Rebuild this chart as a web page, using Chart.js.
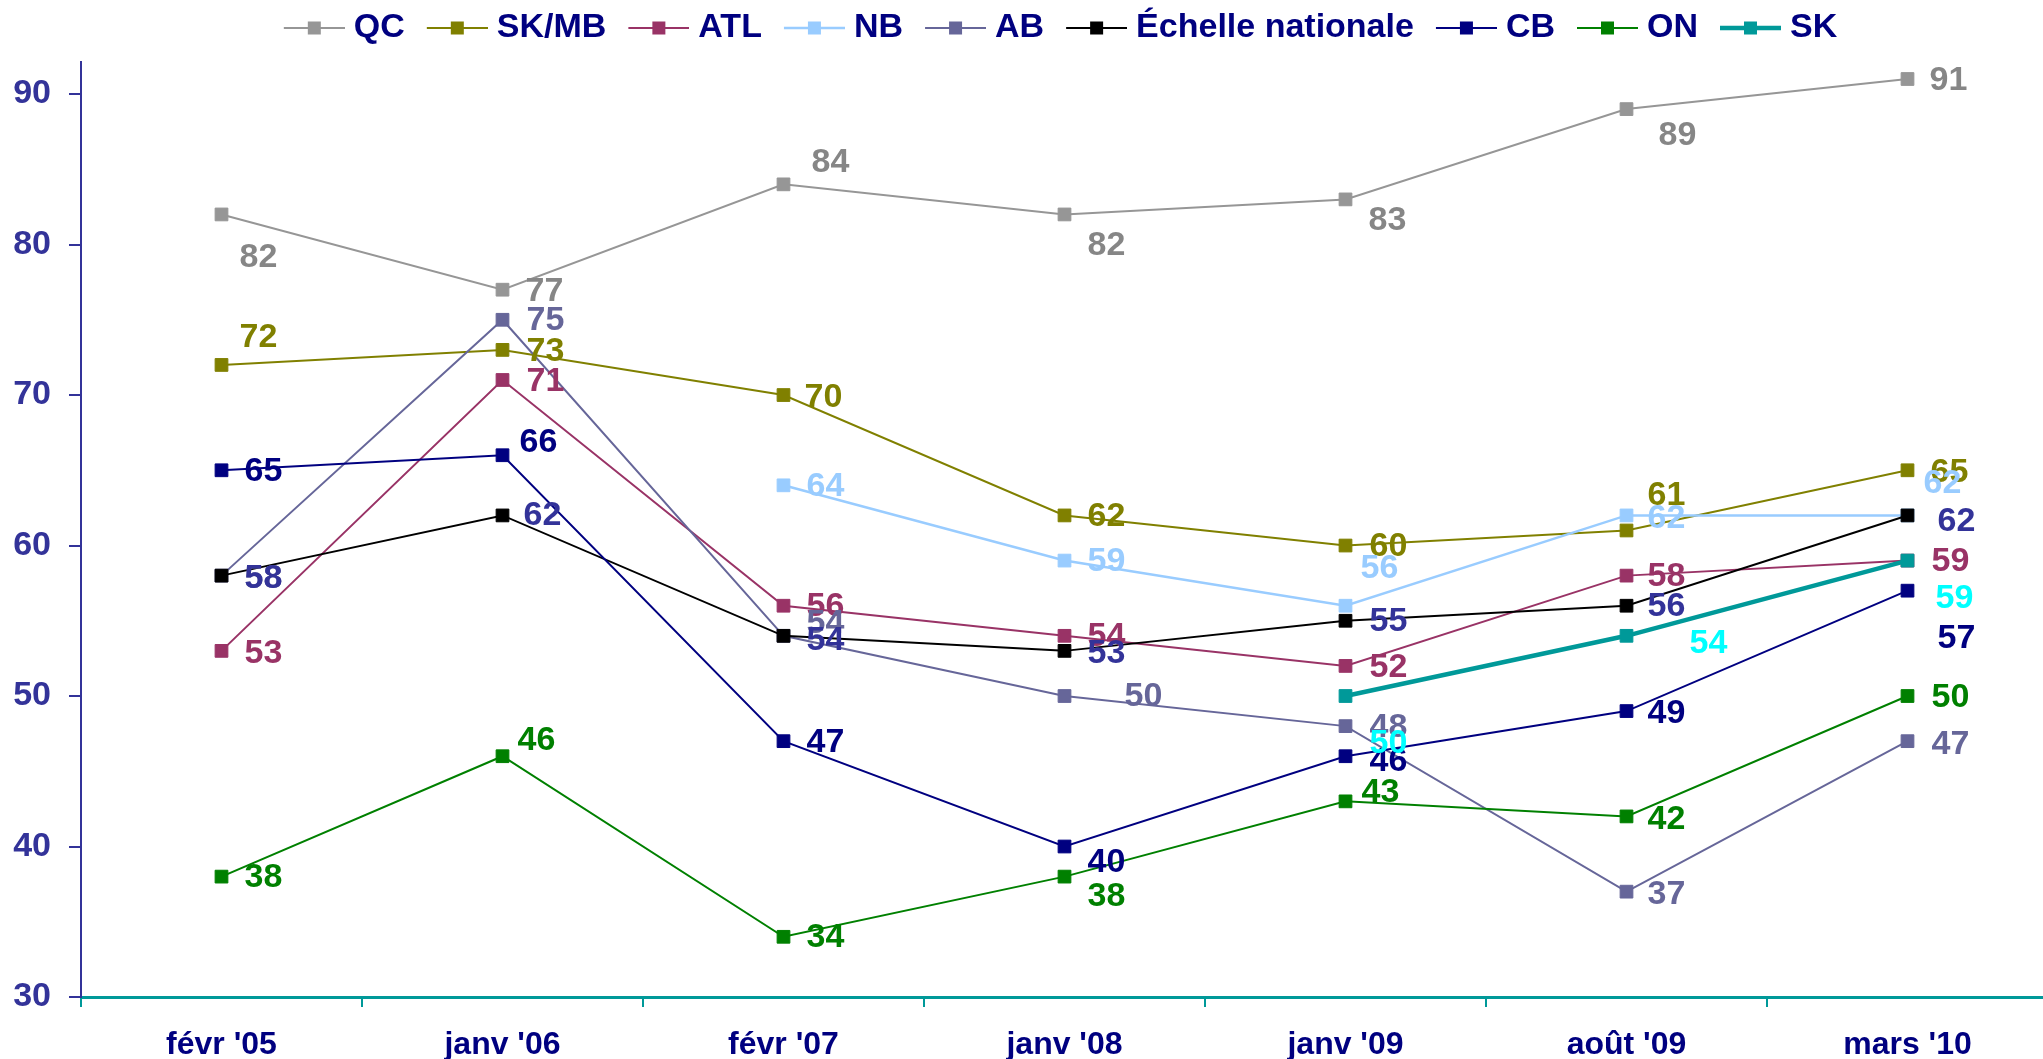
<!DOCTYPE html>
<html><head><meta charset="utf-8">
<script src="https://cdn.jsdelivr.net/npm/chart.js@4.4.0/dist/chart.umd.min.js"></script>
<style>html,body{margin:0;padding:0;background:#fff;overflow:hidden;width:2043px;height:1059px}canvas{display:block}</style>
</head><body>
<canvas id="c" width="2058" height="1059"></canvas>
<script>
// ---- data ----
const categories = ["févr '05", "janv '06", "févr '07", "janv '08", "janv '09", "août '09", "mars '10"];
const seriesNames = ["QC", "SK/MB", "ATL", "NB", "AB", "Échelle nationale", "CB", "ON", "SK"];
const qc       = [82, 77, 84, 82, 83, 89, 91];
const skmb     = [72, 73, 70, 62, 60, 61, 65];
const atl      = [53, 71, 56, 54, 52, 58, 59];
const nb       = [null, null, 64, 59, 56, 62, 62];
const ab       = [58, 75, 54, 50, 48, 37, 47];
const national = [58, 62, 54, 53, 55, 56, 62];
const cb       = [65, 66, 47, 40, 46, 49, 57];
const on       = [38, 46, 34, 38, 43, 42, 50];
const sk       = [null, null, null, null, 50, 54, 59];
const yTicks   = [30, 40, 50, 60, 70, 80, 90];

const seriesValues = [qc, skmb, atl, nb, ab, national, cb, on, sk];

// ---- styles ----
const lineColors  = ['#969696', '#808000', '#993366', '#99CCFF', '#666699', '#000000', '#000080', '#008000', '#009999'];
const labelColors = ['#868686', '#808000', '#993366', '#99CCFF', '#666699', '#333399', '#000080', '#008000', '#00FFFF'];
const lineWidths  = [2, 2, 2, 2.5, 2, 2, 2, 2, 4.5];

// data-label placement (dx, dy in px from the point)
const labelOffsets = [
  [[37,43],[42,2],[47,-22],[42,31],[42,21],[51,27],[41,2]],
  [[37,-27],[43,2],[40,3],[42,1],[43,1],[40,-35],[42,2]],
  [[42,3],[43,2],[42,1],[42,1],[43,2],[40,1],[43,1]],
  [null,null,[42,1],[42,1],[34,-37],[40,3],[35,-32]],
  [[42,3],[43,1],[42,-12],[79,1],[43,2],[40,3],[43,3]],
  [[42,3],[40,0],[42,5],[42,3],[43,1],[40,1],[49,6]],
  [[42,1],[36,-13],[42,1],[42,16],[43,5],[40,3],[49,48]],
  [[42,1],[34,-16],[42,1],[42,20],[35,-9],[40,3],[43,2]],
  [null,null,null,null,[43,48],[82,8],[47,38]]
];

const FONT = '"Liberation Sans", Arial, sans-serif';
const LEGEND_SHIFT = 26;

function legendIcon(i) {
  const c = document.createElement('canvas');
  c.width = 80; c.height = 16;
  const g = c.getContext('2d');
  g.strokeStyle = lineColors[i];
  g.lineWidth = lineWidths[i];
  g.beginPath(); g.moveTo(19, 8); g.lineTo(80, 8); g.stroke();
  g.fillStyle = lineColors[i];
  g.fillRect(49.5 - 6.5, 8 - 6.5, 13, 13);
  return c;
}

const valueLabels = {
  id: 'valueLabels',
  afterDatasetsDraw(chart) {
    const ctx = chart.ctx;
    ctx.save();
    ctx.font = 'bold 34px ' + FONT;
    ctx.textAlign = 'center';
    ctx.textBaseline = 'middle';
    chart.data.datasets.forEach((ds, i) => {
      const meta = chart.getDatasetMeta(i);
      ds.data.forEach((v, j) => {
        if (v === null || v === undefined) return;
        const el = meta.data[j];
        const off = labelOffsets[i][j] || [42, 0];
        ctx.fillStyle = labelColors[i];
        ctx.fillText(String(v), el.x + off[0], el.y + off[1]);
      });
    });
    ctx.restore();
  }
};

const legendTweak = {
  id: 'legendTweak',
  afterInit(chart) {
    const lg = chart.legend;
    if (lg && !lg._patched) {
      const orig = lg.fit;
      lg.fit = function () { orig.call(this); this.height = 62; };
      lg._patched = true;
    }
  },
  afterLayout(chart) {
    const lg = chart.legend;
    if (lg) { lg.left += LEGEND_SHIFT; lg.right += LEGEND_SHIFT; }
  }
};

new Chart(document.getElementById('c'), {
  type: 'line',
  data: {
    labels: categories,
    datasets: seriesValues.map((vals, i) => ({
      label: seriesNames[i],
      data: vals,
      borderColor: lineColors[i],
      backgroundColor: lineColors[i],
      borderWidth: lineWidths[i],
      pointStyle: 'rect',
      pointRadius: 9,
      pointHoverRadius: 9,
      pointBorderWidth: 1,
      pointBackgroundColor: lineColors[i],
      pointBorderColor: lineColors[i],
      tension: 0,
      fill: false,
      spanGaps: false,
      order: 9 - i
    }))
  },
  options: {
    responsive: false,
    animation: false,
    events: [],
    layout: { padding: 0 },
    plugins: {
      tooltip: { enabled: false },
      legend: {
        position: 'top',
        align: 'center',
        labels: {
          usePointStyle: true,
          pointStyleWidth: 64,
          padding: 11,
          color: '#000080',
          font: { family: FONT, size: 34, weight: 'bold' },
          generateLabels: (chart) => chart.data.datasets.map((ds, i) => ({
            text: ds.label,
            fillStyle: lineColors[i],
            strokeStyle: lineColors[i],
            lineWidth: 0,
            pointStyle: legendIcon(i),
            hidden: false,
            datasetIndex: i,
            fontColor: '#000080'
          }))
        }
      }
    },
    scales: {
      x: {
        offset: true,
        grid: { offset: true, drawOnChartArea: false, drawTicks: true, tickLength: 10, color: '#009999', lineWidth: 2 },
        border: { display: true, color: '#009999', width: 3 },
        ticks: { color: '#000080', font: { family: FONT, size: 32, weight: 'bold' }, padding: 19, maxRotation: 0, autoSkip: false },
        afterFit: (s) => { s.height = 62; }
      },
      y: {
        min: 30,
        max: 92.13,
        afterBuildTicks: (s) => { s.ticks = yTicks.map(v => ({ value: v })); },
        grid: { drawOnChartArea: false, drawTicks: true, tickLength: 12, color: '#333399', lineWidth: 2 },
        border: { display: true, color: '#333399', width: 2 },
        ticks: { color: '#333399', font: { family: FONT, size: 34, weight: 'bold' }, padding: 18 },
        afterFit: (s) => { s.width = 81; }
      }
    }
  },
  plugins: [legendTweak, valueLabels]
});
</script>
</body></html>
